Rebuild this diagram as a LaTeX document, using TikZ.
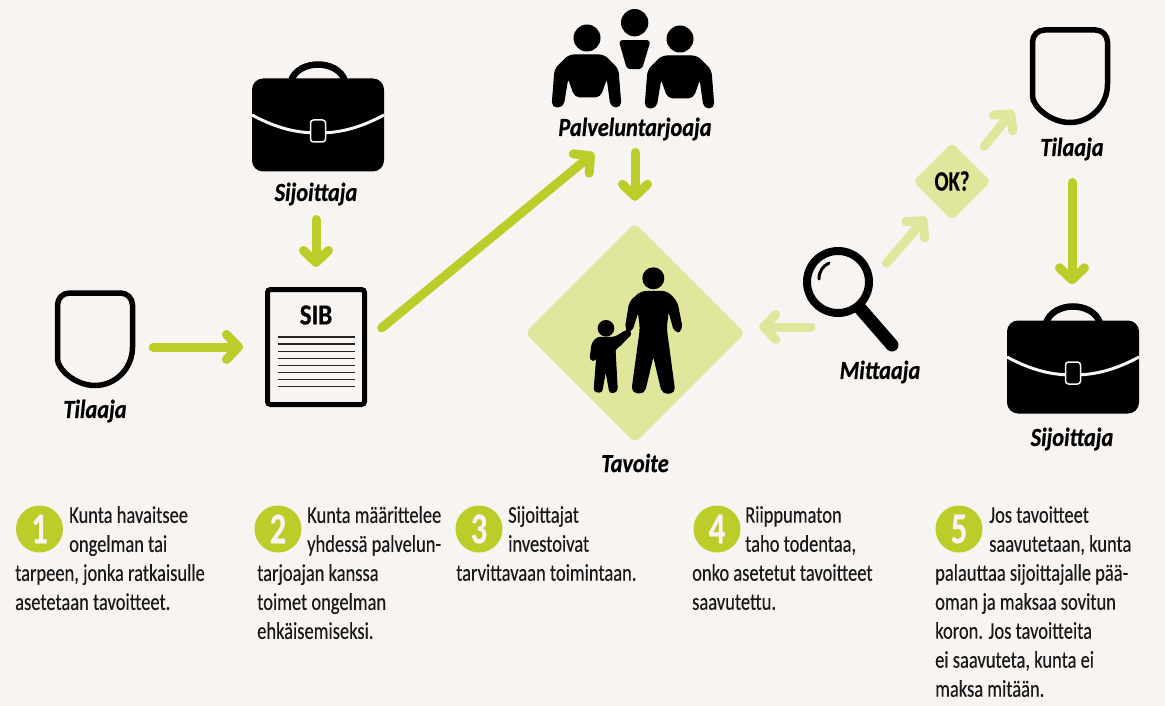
\documentclass[tikz,border=0pt]{standalone}
\usepackage{fontspec}
\usetikzlibrary{arrows.meta,shapes.geometric}
\newfontfamily\labelfont[FakeStretch=0.86,FakeBold=0.6]{Carlito}
\newfontfamily\narrowfont[FakeStretch=0.74,FakeBold=0.4]{Carlito}
\newfontfamily\bodyfont[FakeStretch=0.77,FakeBold=0.25]{Carlito}
\definecolor{paper}{RGB}{247,244,241}
\definecolor{limegreen}{RGB}{188,205,42}
\definecolor{palegreen}{RGB}{224,230,156}
\tikzset{
	greenarrow/.style = {line width=9pt, line cap=round, color=limegreen, -{Straight Barb[length=12pt,width=25pt,round]}},
	palearrow/.style = {greenarrow, color=palegreen},
	iconlabel/.style = {font=\labelfont\bfseries\itshape\fontsize{26}{26}\selectfont, inner sep=0pt},
	numdot/.style = {circle, fill=limegreen, text=paper, inner sep=0pt, minimum size=47pt, font=\narrowfont\bfseries\fontsize{44}{44}\selectfont},
	steptext/.style = {anchor=north west, inner sep=0pt, align=left, text=black!90, font=\bodyfont\fontsize{24}{29}\selectfont},
	shieldicon/.pic = {
		\node[minimum width=80pt, minimum height=98pt, inner sep=0pt] (-body) at (0,0) {};
		\draw[line width=5.5pt, rounded corners=12pt] (0,-46) -- (-37.5,-46) -- (-37.5,8) [sharp corners] .. controls (-37.5,30) and (-20,46.5) .. (0,46.5) .. controls (20,46.5) and (37.5,30) .. (37.5,8) [rounded corners=12pt] -- (37.5,-46) -- cycle;
	},
	caseicon/.pic = {
		\draw[line width=6.5pt] (-27,-44) .. controls (-20,-66) and (20,-66) .. (27,-44);
		\node[fill=black, rounded corners=11pt, minimum width=132pt, minimum height=93pt, inner sep=0pt] (-body) at (0,0) {};
		\draw[paper, line width=3pt] (-66,-10) .. controls (-40,4) and (-20,8) .. (0,8) .. controls (20,8) and (40,4) .. (66,-10);
		\draw[paper, fill=black, line width=1.5pt, rounded corners=3pt] (-7.5,-5) rectangle (7.5,17);
	},
	personicon/.pic = {
		\fill (1,-17) circle (13.5);
		\filldraw[line width=1pt, line join=round, rounded corners=5pt] (-34,52) -- (-31,14) -- (-17,0) -- (18,0) -- (32,14) -- (35,52) -- (25,52) -- (21,22) -- (14,42) -- (-11,42) -- (-18,22) -- (-23,52) -- cycle;
	}
}

\begin{document}
\begin{tikzpicture}[x=1pt,y=-1pt]
	\useasboundingbox (0,0) rectangle (1165,706);
	\fill[paper] (0,0) rectangle (1165,706);

	% first row of icons
	\pic (tilaajaA) at (95,339) {shieldicon};
	\draw (95,411) node[iconlabel] (tilaajaAlabel) {Tilaaja};
	\pic (sijoittajaA) at (318,125) {caseicon};
	\draw (316,194) node[iconlabel] (sijoittajaAlabel) {Sijoittaja};
	\draw (316,347) node[draw, line width=5pt, rounded corners=3pt, minimum width=97pt, minimum height=115pt] (sib) {};
	\draw (316,315) node[font=\labelfont\bfseries\fontsize{29}{29}\selectfont, inner sep=0pt] (sibtitle) {SIB};
	\foreach \y in {337,344.1,...,388}
		\draw[black!85, line width=1.4pt] (278,\y) -- (355,\y);

	% people
	\pic at (586,55) {personicon};
	\pic at (679,56) {personicon};
	\begin{scope}[shift={(520,0)},x=0.3333pt,y=-0.3333pt]
		\fill (344,68) circle (41);
		\filldraw[line width=1pt, line join=round, rounded corners=3pt] (298,122) -- (390,122) -- (365,206) -- (322,206) -- cycle;
	\end{scope}
	\draw (635,129) node[iconlabel] (palvelu) {Palveluntarjoaja};

	% target
	\draw (635,333) node[diamond, fill=palegreen, rounded corners=6pt, aspect=1, minimum width=220pt, minimum height=220pt, inner sep=0pt] (tavoite) {};
	\begin{scope}[shift={(520,0)},x=0.3333pt,y=-0.3333pt]
		\fill (400,835) circle (33);
		\filldraw[line width=1.5pt, line join=round, rounded corners=5pt] (316,990) -- (330,905) -- (365,875) -- (440,875) -- (470,905) -- (487,990) -- (465,998) -- (445,925) -- (438,985) -- (464,1178) -- (428,1180) -- (400,1062) -- (372,1180) -- (336,1176) -- (362,985) -- (355,930) -- (333,998) -- cycle;
		\fill (258,985) circle (25);
		\filldraw[line width=1pt, line join=round, rounded corners=3pt] (210,1080) -- (216,1030) -- (232,1012) -- (285,1012) -- (320,990) -- (336,1000) -- (295,1042) -- (285,1045) -- (292,1174) -- (270,1180) -- (257,1110) -- (245,1178) -- (222,1174) -- (232,1050) -- (227,1082) -- cycle;
	\end{scope}
	\draw (635,463) node[iconlabel] (tavoitelabel) {Tavoite};

	% measuring
	\draw (838,282) node[circle, draw, line width=8pt, minimum size=62pt, inner sep=0pt] (lens) {};
	\draw[line width=13pt, line cap=round] (lens.310) -- (892,345);
	\draw[line width=3pt, line cap=round] (819,279) .. controls (819,271) and (823,266) .. (829,263);
	\draw (880,372) node[iconlabel] (mittaaja) {Mittaaja};
	\draw (952,181.5) node[diamond, fill=palegreen, rounded corners=5pt, aspect=1, minimum width=78pt, minimum height=78pt, inner sep=0pt] (okbox) {};
	\draw (952,181) node[inner sep=0pt, font=\narrowfont\bfseries\fontsize{28}{28}\selectfont] (oktext) {OK?};

	% last column
	\pic (tilaajaB) at (1070,76) {shieldicon};
	\draw (1072,149) node[iconlabel] (tilaajaBlabel) {Tilaaja};
	\pic (sijoittajaB) at (1073,367) {caseicon};
	\draw (1072,439) node[iconlabel] (sijoittajaBlabel) {Sijoittaja};

	% connectors
	\coordinate (mitout) at (811,327);
	\coordinate (palvin) at (594,153);
	\draw[greenarrow, shorten <=18pt, shorten >=22pt] (tilaajaA-body.east |- sib) -- (sib.west);
	\draw[greenarrow, shorten <=14pt, shorten >=20pt] (sijoittajaAlabel.south) -- (sijoittajaAlabel.south |- sib.north);
	\draw[greenarrow, shorten <=19pt] ([yshift=7pt]sib.east) -- (palvin);
	\draw[greenarrow, shorten <=12pt, shorten >=22pt] (palvelu.south) -- (tavoite.north);
	\draw[palearrow, shorten >=14pt] (mitout) -- (mitout -| tavoite.east);
	\draw[palearrow, shorten <=21pt, shorten >=16pt] (lens.5) -- ([xshift=4pt,yshift=-4pt]okbox.south west);
	\draw[palearrow, shorten <=20pt, shorten >=26pt] (okbox.north east) -- ([yshift=-14pt]tilaajaB-body.west);
	\draw[greenarrow, shorten <=22pt, shorten >=36pt] (tilaajaBlabel.south) -- (tilaajaBlabel.south |- sijoittajaB-body.north);

	% numbered steps
	\draw (39.5,529) node[numdot] (numA) {1};
	\draw (15,506) node[steptext] (stepA) {\hspace*{54pt}Kunta havaitsee\\\hspace*{54pt}ongelman tai\\tarpeen, jonka ratkaisulle\\asetetaan tavoitteet.};
	\draw (278,529) node[numdot] (numB) {2};
	\draw (257,506) node[steptext] (stepB) {\hspace*{50pt}Kunta määrittelee\\\hspace*{50pt}yhdessä palvelun-\\tarjoajan kanssa\\toimet ongelman\\ehkäisemiseksi.};
	\draw (479,529) node[numdot] (numC) {3};
	\draw (456,506) node[steptext] (stepC) {\hspace*{52pt}Sijoittajat\\\hspace*{52pt}investoivat\\tarvittavaan toimintaan.};
	\draw (717,529) node[numdot] (numD) {4};
	\draw (692,506) node[steptext] (stepD) {\hspace*{53pt}Riippumaton\\\hspace*{53pt}taho todentaa,\\onko asetetut tavoitteet\\saavutettu.};
	\draw (959,529) node[numdot] (numE) {5};
	\draw (935,506) node[steptext] (stepE) {\hspace*{54pt}Jos tavoitteet\\\hspace*{54pt}saavutetaan, kunta\\palauttaa sijoittajalle pää-\\oman ja maksaa sovitun\\koron. Jos tavoitteita\\ei saavuteta, kunta ei\\maksa mitään.};
\end{tikzpicture}
\end{document}
